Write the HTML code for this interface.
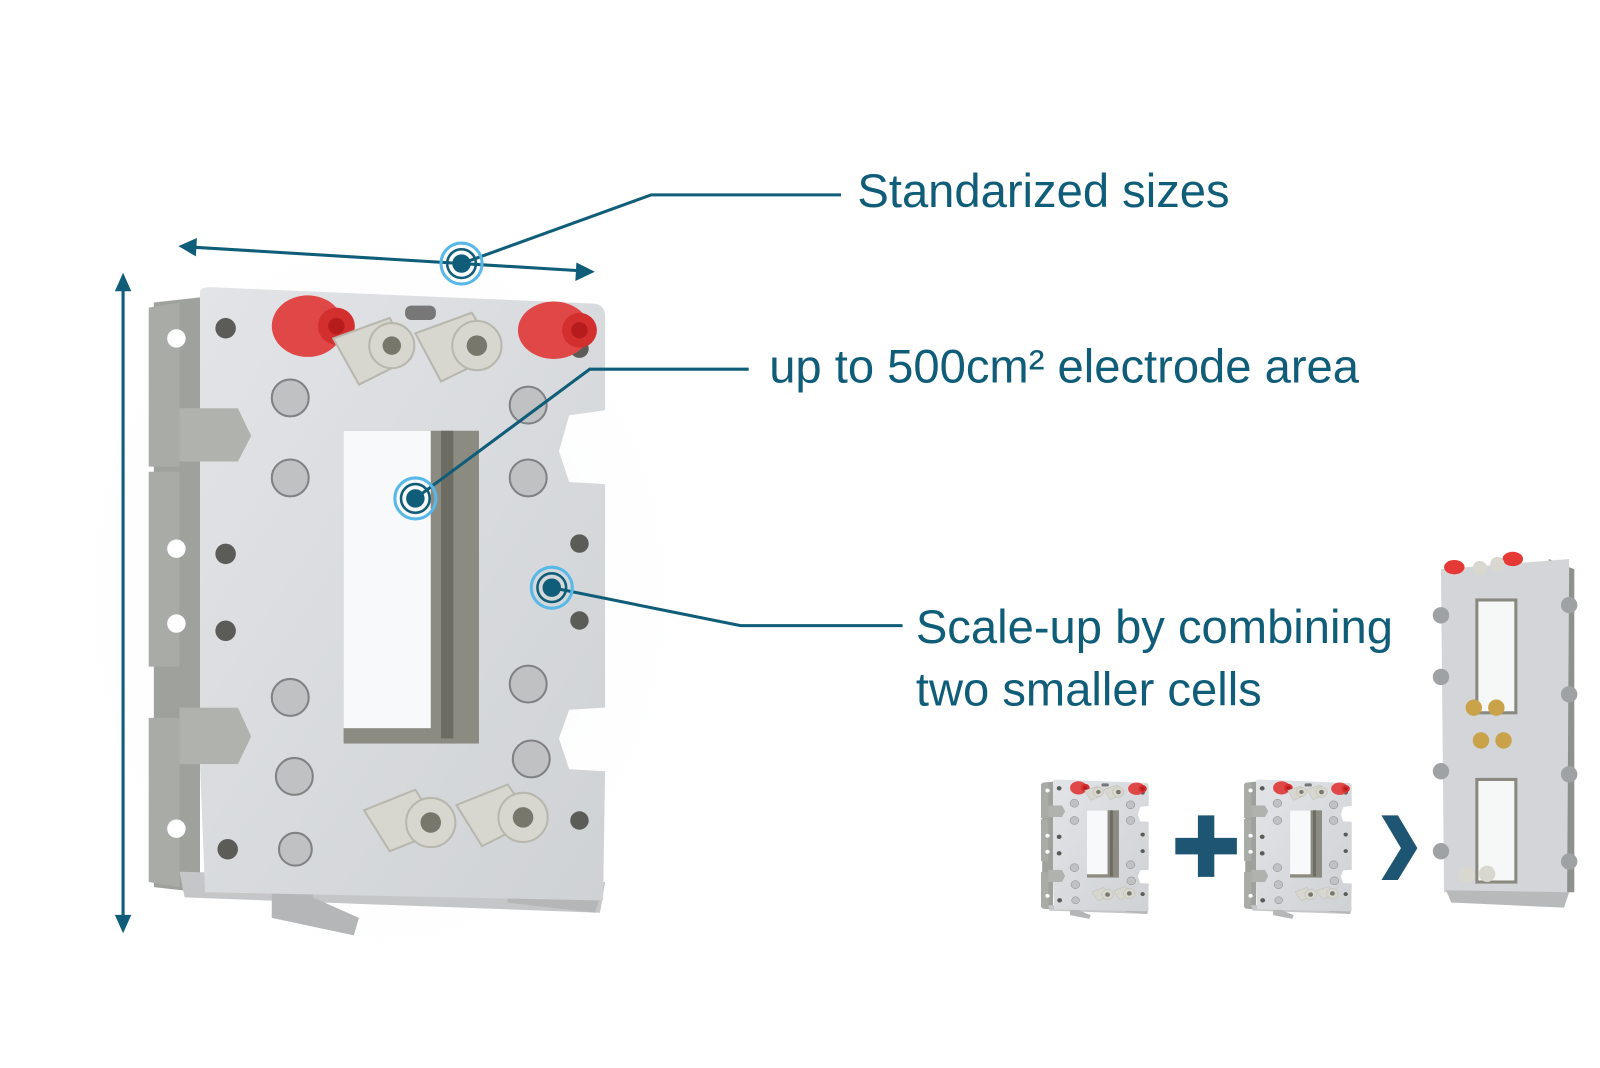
<!DOCTYPE html>
<html><head><meta charset="utf-8"><style>
html,body{margin:0;padding:0;background:#fff;}
svg{display:block;}
text{font-family:"Liberation Sans",sans-serif;fill:#0f5d78;}
</style></head><body>
<svg width="1600" height="1068" viewBox="0 0 1600 1068" xmlns="http://www.w3.org/2000/svg">
<defs>
<radialGradient id="halo" cx="0.5" cy="0.5" r="0.5"><stop offset="0" stop-color="#eef1f6"/><stop offset="1" stop-color="#ffffff" stop-opacity="0"/></radialGradient>
<linearGradient id="plate" x1="0" y1="0" x2="1" y2="1"><stop offset="0" stop-color="#e2e4e7"/><stop offset="1" stop-color="#cfd2d5"/></linearGradient>
<g id="cell">
  <path d="M150 295 L195 290 L195 870 L150 865 Z" fill="#9fa19c"/>
  <path d="M145 300 L175 295 L175 455 L145 455 Z M145 460 L175 460 L175 650 L145 650 Z M145 700 L175 700 L175 865 L145 860Z" fill="#a9aba7"/>
  <path d="M175 850 L590 860 L585 890 L180 875 Z" fill="#c4c6c8"/>
  <path d="M265 720 L300 715 L305 875 L350 895 L345 912 L265 895 Z" fill="#b4b6b8"/>
  <path d="M490 720 L525 715 L530 860 L585 875 L580 890 L495 880 Z" fill="#b4b6b8"/>
  <path d="M195 285 Q195 280 205 280 L580 296 Q590 298 590 308 L590 400 L555 405 L545 440 L555 470 L590 472 L590 690 L555 692 L545 720 L555 750 L590 752 L588 878 L200 870 L195 745 L230 745 L245 718 L232 690 L195 690 L195 450 L232 450 L245 425 L232 398 L195 398 Z" fill="url(#plate)"/>
  <path d="M175 398 L232 398 L245 425 L232 450 L175 450 Z M175 690 L232 690 L245 718 L232 745 L175 745 Z" fill="#b0b2ae"/>
  <rect x="335" y="420" width="132" height="305" fill="#8c8b82"/>
  <rect x="335" y="420" width="85" height="290" fill="#f8f9fa"/>
  <rect x="430" y="420" width="12" height="300" fill="#6d6c63"/>
  <g fill="#5b5c58">
    <circle cx="220" cy="320" r="10"/><circle cx="220" cy="540" r="10"/><circle cx="220" cy="615" r="10"/><circle cx="222" cy="828" r="10"/>
    <circle cx="565" cy="530" r="9"/><circle cx="565" cy="605" r="9"/><circle cx="565" cy="800" r="9"/><circle cx="565" cy="340" r="9"/>
  </g>
  <g fill="#ffffff"><circle cx="172" cy="330" r="9"/><circle cx="172" cy="535" r="9"/><circle cx="172" cy="608" r="9"/><circle cx="172" cy="808" r="9"/></g>
  <g fill="#bfc1c3" stroke="#7f8183" stroke-width="2">
    <circle cx="283" cy="388" r="18"/><circle cx="283" cy="466" r="18"/><circle cx="283" cy="680" r="18"/><circle cx="287" cy="757" r="18"/><circle cx="288" cy="828" r="16"/>
    <circle cx="515" cy="395" r="18"/><circle cx="515" cy="466" r="18"/><circle cx="515" cy="667" r="18"/><circle cx="518" cy="740" r="18"/>
  </g>
  <ellipse cx="300" cy="318" rx="35" ry="30" fill="#e04848"/><circle cx="328" cy="318" r="18" fill="#d32f2f"/><circle cx="328" cy="318" r="8" fill="#b71c1c"/>
  <ellipse cx="540" cy="322" rx="35" ry="28" fill="#e04848"/><circle cx="565" cy="322" r="17" fill="#d32f2f"/><circle cx="565" cy="322" r="8" fill="#b71c1c"/>
  <rect x="395" y="298" width="30" height="14" rx="6" fill="#777"/>
  <g fill="#d7d6cf" stroke="#b8b7ae" stroke-width="2">
    <path d="M325 330 L380 310 L400 350 L350 375 Z"/><circle cx="382" cy="337" r="22"/>
    <path d="M405 325 L460 305 L485 345 L430 372 Z"/><circle cx="465" cy="337" r="24"/>
    <path d="M355 790 L405 770 L430 810 L380 830 Z"/><circle cx="420" cy="802" r="24"/>
    <path d="M445 785 L495 765 L520 800 L470 825 Z"/><circle cx="510" cy="797" r="24"/>
  </g>
  <g fill="#77776c"><circle cx="382" cy="337" r="9"/><circle cx="465" cy="337" r="10"/><circle cx="420" cy="802" r="10"/><circle cx="510" cy="797" r="10"/></g>
</g>
</defs>

<g transform="scale(1.0256)">
<ellipse cx="370" cy="580" rx="330" ry="400" fill="url(#halo)"/>
<use href="#cell"/>

<g stroke="#0f5d78" stroke-width="3" fill="none">
  <line x1="188" y1="241" x2="566" y2="264"/>
  <line x1="120" y1="282" x2="120" y2="896"/>
  <polyline points="450,257 635,190 820,190"/>
  <polyline points="405,486 575,360 730,360"/>
  <polyline points="538,573 722,610 880,610"/>
</g>
<g fill="#0f5d78">
  <polygon points="174,240 192,232 191,250"/>
  <polygon points="580,265 562,256 561,274"/>
  <polygon points="120,266 112,284 128,284"/>
  <polygon points="120,910 112,892 128,892"/>
</g>
<g>
  <circle cx="450" cy="257" r="20" fill="none" stroke="#58b8e8" stroke-width="3"/>
  <circle cx="450" cy="257" r="14" fill="none" stroke="#0f5d78" stroke-width="2.5"/>
  <circle cx="450" cy="257" r="9" fill="#0f5d78"/>
  <circle cx="405" cy="486" r="20" fill="none" stroke="#58b8e8" stroke-width="3"/>
  <circle cx="405" cy="486" r="14" fill="none" stroke="#0f5d78" stroke-width="2.5"/>
  <circle cx="405" cy="486" r="9" fill="#0f5d78"/>
  <circle cx="538" cy="573" r="20" fill="none" stroke="#58b8e8" stroke-width="3"/>
  <circle cx="538" cy="573" r="14" fill="none" stroke="#0f5d78" stroke-width="2.5"/>
  <circle cx="538" cy="573" r="9" fill="#0f5d78"/>
</g>

<text x="836" y="202" font-size="46">Standarized sizes</text>
<text x="750" y="373" font-size="46">up to 500cm² electrode area</text>
<text x="893" y="627" font-size="46">Scale-up by combining</text>
<text x="893" y="688" font-size="46">two smaller cells</text>

<use href="#cell" transform="translate(1015,760) scale(0.236,0.215) translate(-145,-280)"/>
<use href="#cell" transform="translate(1213,760) scale(0.236,0.215) translate(-145,-280)"/>
<path d="M1168 795 h16 v22 h22 v16 h-22 v22 h-16 v-22 h-22 v-16 h22 z" fill="#1d5572"/>
<polygon points="1347,795 1363,795 1382,827 1363,858 1347,858 1366,827" fill="#1d5572"/>

<g>
  <path d="M1510 545 L1535 555 L1535 870 L1510 870 Z" fill="#8f918d"/>
  <path d="M1405 555 L1530 545 L1528 872 L1408 870 Z" fill="#d3d5d8"/>
  <rect x="1440" y="585" width="38" height="110" fill="#f6f7f7" stroke="#8a897f" stroke-width="3"/>
  <rect x="1440" y="760" width="38" height="100" fill="#f6f7f7" stroke="#8a897f" stroke-width="3"/>
  <g fill="#c9a24a"><circle cx="1437" cy="690" r="8"/><circle cx="1459" cy="690" r="8"/><circle cx="1444" cy="722" r="8"/><circle cx="1466" cy="722" r="8"/></g>
  <g fill="#9fa2a5"><circle cx="1405" cy="600" r="8"/><circle cx="1405" cy="660" r="8"/><circle cx="1405" cy="752" r="8"/><circle cx="1405" cy="830" r="8"/><circle cx="1530" cy="590" r="8"/><circle cx="1530" cy="677" r="8"/><circle cx="1530" cy="755" r="8"/><circle cx="1530" cy="840" r="8"/></g>
  <g fill="#e53935"><ellipse cx="1418" cy="553" rx="10" ry="7"/><ellipse cx="1475" cy="545" rx="10" ry="7"/></g>
  <g fill="#d9d8d0"><circle cx="1443" cy="554" r="7"/><circle cx="1460" cy="550" r="7"/><circle cx="1430" cy="853" r="8"/><circle cx="1450" cy="852" r="8"/></g>
  <path d="M1410 868 L1530 870 L1525 885 L1415 880 Z" fill="#b7b9bb"/>
</g>
</g>
</svg>
</body></html>
